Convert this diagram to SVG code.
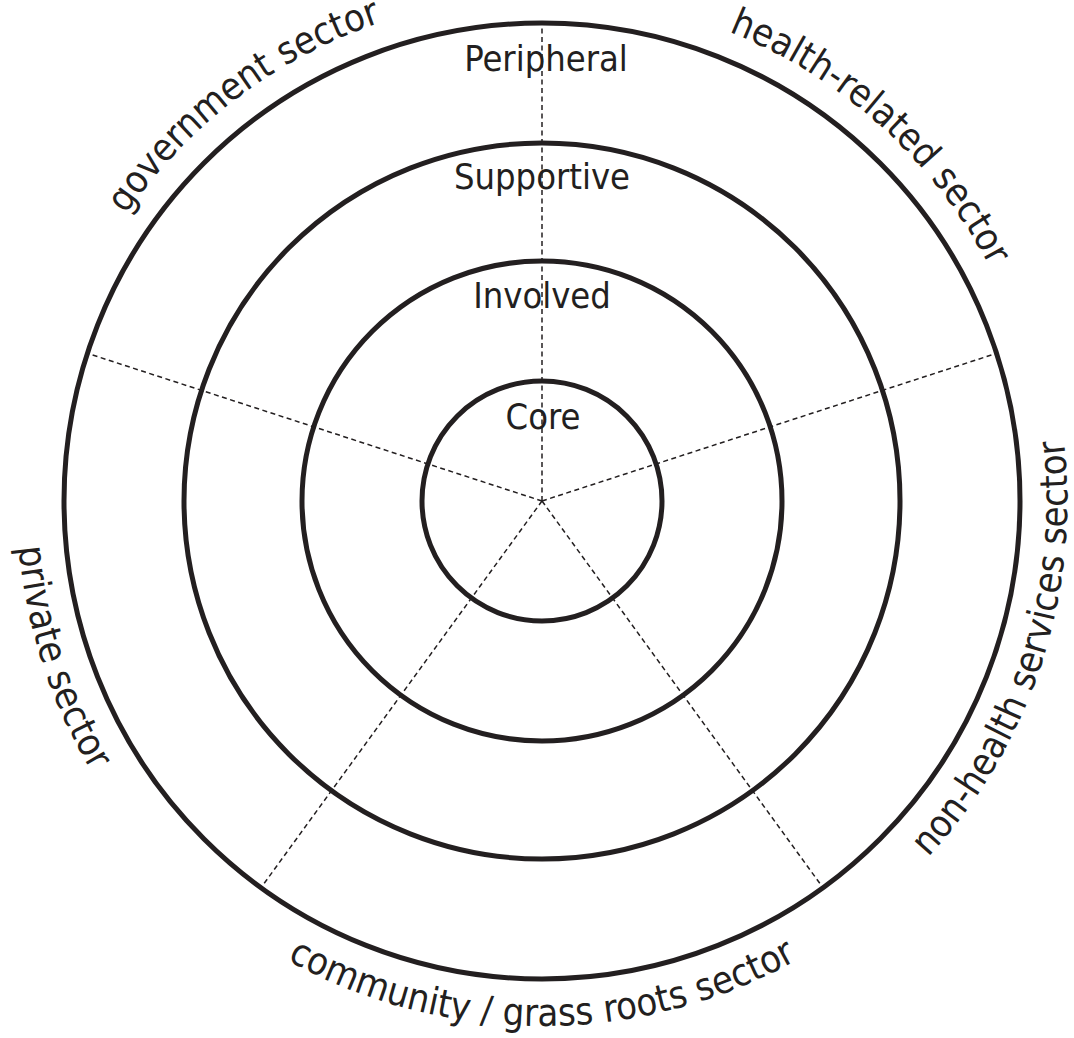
<svg xmlns="http://www.w3.org/2000/svg" xmlns:xlink="http://www.w3.org/1999/xlink" width="1074" height="1038" viewBox="0 0 1074 1038">
  <style>
    .ring { fill: none; stroke: #231f20; stroke-width: 5; }
    .spoke { fill: none; stroke: #231f20; stroke-width: 1.5; stroke-dasharray: 5 3.5; }
    .lbl { font-family: "DejaVu Sans Condensed", "DejaVu Sans", sans-serif; font-stretch: condensed; font-size: 36px; fill: #231f20; text-anchor: middle; }
    .sec { font-size: 38px; }
  </style>
  <defs>
    <path id="arc-gov" d="M 113.7 768.6 A 505 505 0 0 1 917.3 163.1"/>
    <path id="arc-health" d="M 197.6 131.6 A 505 505 0 0 1 945.3 804.9"/>
    <path id="arc-nonhealth" d="M 423.9 1012.6 A 525 525 0 0 0 747.1 17.7"/>
    <path id="arc-community" d="M 19.0 546.8 A 525 525 0 0 0 1065.0 546.8"/>
    <path id="arc-private" d="M 336.9 17.7 A 525 525 0 0 0 660.1 1012.6"/>
  </defs>
  <rect width="1074" height="1038" fill="#ffffff"/>
  <g id="peripheral">
    <circle class="ring" cx="542" cy="501" r="478"/>
    <text class="lbl" x="546" y="71">Peripheral</text>
  </g>
  <g id="supportive">
    <circle class="ring" cx="542" cy="501" r="358"/>
    <text class="lbl" x="542" y="189">Supportive</text>
  </g>
  <g id="involved">
    <circle class="ring" cx="542" cy="501" r="240"/>
    <text class="lbl" x="542" y="308">Involved</text>
  </g>
  <g id="core">
    <circle class="ring" cx="542" cy="501" r="120"/>
    <text class="lbl" x="543" y="429">Core</text>
  </g>
  <g id="government-sector">
    <text class="lbl sec"><textPath xlink:href="#arc-gov" href="#arc-gov" startOffset="50%">government sector</textPath></text>
  </g>
  <g id="health-related-sector">
    <text class="lbl sec"><textPath xlink:href="#arc-health" href="#arc-health" startOffset="50%">health-related sector</textPath></text>
  </g>
  <g id="non-health-services-sector">
    <text class="lbl sec"><textPath xlink:href="#arc-nonhealth" href="#arc-nonhealth" startOffset="50%">non-health services sector</textPath></text>
  </g>
  <g id="community-sector">
    <text class="lbl sec"><textPath xlink:href="#arc-community" href="#arc-community" startOffset="50%">community / grass roots sector</textPath></text>
  </g>
  <g id="private-sector">
    <text class="lbl sec"><textPath xlink:href="#arc-private" href="#arc-private" startOffset="50%">private sector</textPath></text>
  </g>
  <g id="connectors">
    <line class="spoke" x1="542" y1="501" x2="542" y2="23"/>
    <line class="spoke" x1="542" y1="501" x2="996.6" y2="353.3"/>
    <line class="spoke" x1="542" y1="501" x2="823.0" y2="887.7"/>
    <line class="spoke" x1="542" y1="501" x2="261.0" y2="887.7"/>
    <line class="spoke" x1="542" y1="501" x2="87.4" y2="353.3"/>
  </g>
</svg>
